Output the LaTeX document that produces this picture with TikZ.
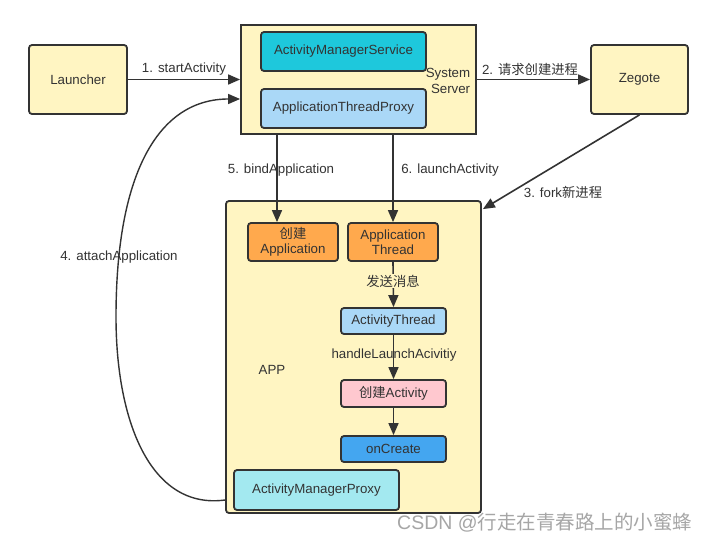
\documentclass[tikz,border=0pt]{standalone}
\usepackage{fontspec}
\setmainfont{Liberation Sans}
\newfontfamily\cjk{Noto Sans CJK SC}
\usetikzlibrary{arrows.meta,calc}
\definecolor{ln}{HTML}{333333}
\definecolor{yel}{HTML}{FFF5C2}
\definecolor{cyanbox}{HTML}{1EC8DC}
\definecolor{ltblue}{HTML}{AAD8F7}
\definecolor{orng}{HTML}{FFA94D}
\definecolor{pinkbox}{HTML}{FFC8CF}
\definecolor{midblue}{HTML}{44A6F0}
\definecolor{aqua}{HTML}{A3E9F0}
\begin{document}
\begin{tikzpicture}[x=1pt,y=-1pt,
  font=\fontsize{13.3}{15.5}\selectfont,
  box/.style={draw=ln, line width=1.8pt, rounded corners=3pt, inner sep=0pt, align=center, text=ln},
  arr/.style={draw=ln, line width=1.6pt, -{Triangle[length=12pt,width=10pt]}},
  lbl/.style={text=ln, inner sep=1pt, align=center}]
\useasboundingbox (0,0) rectangle (703,543);
\fill[white] (0,0) rectangle (703,543);

% boxes
\node[box, fill=yel, minimum width=98pt, minimum height=69pt] (launcher) at (78,79.5) {Launcher};
\node[box, fill=yel, minimum width=97pt, minimum height=69pt] (zeg) at (639.5,79.5) {Zegote};
\node[box, fill=yel, rounded corners=0pt, minimum width=235pt, minimum height=109pt] (ss) at (358.5,79.5) {};
\node[box, fill=cyanbox, minimum width=165pt, minimum height=39pt] (ams) at (343.5,51.5) {ActivityManagerService};
\node[box, fill=ltblue, minimum width=165pt, minimum height=39pt] (atp) at (343.5,108.5) {ApplicationThreadProxy};
\node[lbl, align=right] (sstxt) at (448,81) {System\\Server};

\node[box, fill=yel, minimum width=255pt, minimum height=312pt] (app) at (353.5,357) {};
\node[box, fill=orng, minimum width=90pt, minimum height=38pt] (ca) at (293,242) {{\cjk 创建}\\Application};
\node[box, fill=orng, minimum width=90pt, minimum height=38pt] (at) at (393,242) {Application\\Thread};
\node[box, fill=ltblue, minimum width=105pt, minimum height=26pt] (actt) at (393.5,321) {ActivityThread};
\node[box, fill=pinkbox, minimum width=105pt, minimum height=27pt] (cact) at (393.5,393.5) {{\cjk 创建}Activity};
\node[box, fill=midblue, minimum width=105pt, minimum height=26pt] (onc) at (393.5,449) {onCreate};
\node[box, fill=aqua, minimum width=165pt, minimum height=40pt] (amp) at (316.5,490) {ActivityManagerProxy};
\node[lbl] (apptxt) at (272,370) {APP};

% connectors
\draw[arr] (launcher.east) -- (ss.west);
\node[lbl] (l1) at (184,69) {1. startActivity};
\draw[arr] (ss.east) -- (zeg.west);
\node[lbl] (l2) at (530,69) {2. {\cjk 请求创建进程}};
\draw[arr] (zeg.south) -- ($(app.north east)+(1,9)$);
\node[lbl] (l3) at (563,192) {3. fork{\cjk 新进程}};
\coordinate (x5) at (277,0);
\draw[arr] (x5 |- ss.south) -- (x5 |- ca.north);
\node[lbl] (l5) at (281,170) {5. bindApplication};
\draw[arr] (at.north |- ss.south) -- (at.north);
\node[lbl] (l6) at (450,170) {6. launchActivity};
\draw[arr] (at.south) -- (actt.north);
\node[lbl, fill=yel] (l7) at (393,281) {\cjk 发送消息};
\draw[arr] (actt.south) -- (cact.north);
\node[lbl] (l8) at (394,355) {handleLaunchAcivitiy};
\draw[arr] (cact.south) -- (onc.north);

\coordinate (s4) at ($(amp.west)+(-8,10)$);
\coordinate (m4) at (116,317);
\draw[arr, line width=1.4pt] (s4) .. controls (150,510) and (116,420) .. (m4)
  .. controls (116,170) and (160,99) .. ($(ss.west)+(0,19.5)$);
\node[lbl] (l4) at (119,257) {4. attachApplication};

\node[text=black!35, inner sep=0pt, anchor=west, font=\fontsize{19.5}{21}\selectfont] (wm) at (397,523) {CSDN @{\cjk 行走在青春路上的小蜜蜂}};
\end{tikzpicture}
\end{document}
